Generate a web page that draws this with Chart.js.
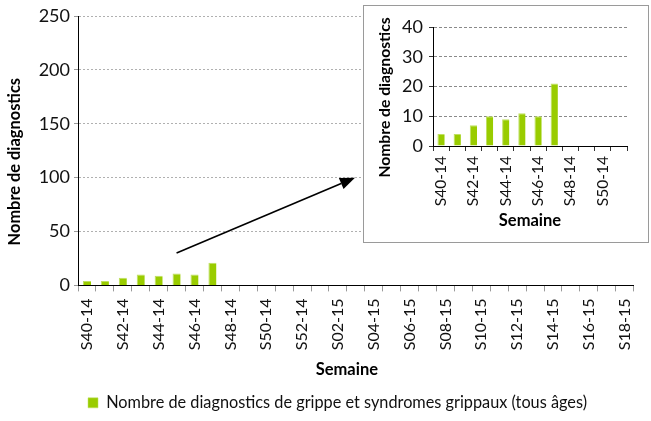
<!DOCTYPE html>
<html><head><meta charset="utf-8">
<script src="https://cdn.jsdelivr.net/npm/chart.js@4.4.1/dist/chart.umd.min.js"></script>
<style>
html,body{margin:0;padding:0;background:#fff;}
#wrap{position:relative;width:651px;height:421px;overflow:hidden;}
#main{position:absolute;left:0;top:0;}
#insetBox{position:absolute;left:363px;top:5px;width:284px;height:236px;border:1px solid #9a9a9a;background:#fff;}
#inset{position:absolute;left:0;top:0;}
</style></head><body>
<div id="wrap">
<canvas id="main" width="651" height="421"></canvas>
<div id="insetBox"><canvas id="inset" width="284" height="236"></canvas></div>
</div>
<script>
const weeks = ['S40-14','S41-14','S42-14','S43-14','S44-14','S45-14','S46-14','S47-14','S48-14','S49-14','S50-14','S51-14','S52-14',
  'S01-15','S02-15','S03-15','S04-15','S05-15','S06-15','S07-15','S08-15','S09-15','S10-15','S11-15','S12-15','S13-15','S14-15','S15-15','S16-15','S17-15','S18-15'];
const cases = [4,4,7,10,9,11,10,21,null,null,null,null,null,null,null,null,null,null,null,null,null,null,null,null,null,null,null,null,null,null,null];
const yTicksMain = [0,50,100,150,200,250];
const insetWeeks = weeks.slice(0,12);
const insetCases = cases.slice(0,12);
const yTicksInset = [0,10,20,30,40];
const seriesLabel = 'Nombre de diagnostics de grippe et syndromes grippaux (tous âges)';
const yTitle = 'Nombre de diagnostics';
const xTitle = 'Semaine';
const barColor = '#99cc00';
const F = "Lato, 'Open Sans', sans-serif";
const txt = '#111';

function everyOther(v, i) { return i % 2 === 0 ? this.getLabelForValue(v) : ''; }

function drawYTitle(ctx, text, size, x, y) {
  ctx.save();
  ctx.translate(x, y);
  ctx.rotate(-Math.PI / 2);
  ctx.fillStyle = '#000';
  ctx.font = 'bold ' + size + 'px ' + F;
  ctx.textAlign = 'center';
  ctx.textBaseline = 'middle';
  ctx.fillText(text, 0, 0);
  ctx.restore();
}

const mainDecor = {
  id: 'mainDecor',
  afterDraw(chart) {
    const ctx = chart.ctx, xs = chart.scales.x, ys = chart.scales.y, ca = chart.chartArea;
    ctx.save();
    ctx.fillStyle = '#000';
    ctx.font = 'bold 16.5px ' + F;
    ctx.textAlign = 'center';
    ctx.textBaseline = 'middle';
    ctx.fillText(xTitle, (ca.left + ca.right) / 2 - 9, 370);
    ctx.restore();
    drawYTitle(ctx, yTitle, 16.4, 15, (ca.top + ca.bottom) / 2 + 11);
    // arrow
    ctx.save();
    const box = document.getElementById('insetBox');
    const x0 = xs.getPixelForValue(5), y0 = ys.getPixelForValue(30);
    const x1 = box.offsetLeft - 8, y1 = ys.getPixelForValue(100);
    const ang = Math.atan2(y1 - y0, x1 - x0);
    const L = 15, W = 6;
    const bx = x1 - L * Math.cos(ang), by = y1 - L * Math.sin(ang);
    ctx.strokeStyle = '#000'; ctx.fillStyle = '#000';
    ctx.lineWidth = 1.6;
    ctx.beginPath(); ctx.moveTo(x0, y0); ctx.lineTo(bx, by); ctx.stroke();
    ctx.beginPath();
    ctx.moveTo(x1, y1);
    ctx.lineTo(bx + W * Math.sin(ang), by - W * Math.cos(ang));
    ctx.lineTo(bx - W * Math.sin(ang), by + W * Math.cos(ang));
    ctx.closePath(); ctx.fill();
    ctx.restore();
  }
};

const insetDecor = {
  id: 'insetDecor',
  afterDraw(chart) {
    const ca = chart.chartArea;
    drawYTitle(chart.ctx, yTitle, 15.7, 21, (ca.top + ca.bottom) / 2 + 11);
  }
};

new Chart(document.getElementById('main'), {
  type: 'bar',
  data: { labels: weeks, datasets: [{ label: seriesLabel, data: cases, backgroundColor: barColor,
    borderColor: '#bfe060', borderWidth: { top: 1, left: 1, right: 0, bottom: 0 }, barPercentage: 0.45, categoryPercentage: 1 }] },
  options: {
    responsive: false, animation: false,
    layout: { padding: { left: 28, right: 4, top: 16, bottom: 0 } },
    plugins: {
      legend: { position: 'bottom', labels: { boxWidth: 10, boxHeight: 10, padding: 5, color: txt, font: { family: F, size: 16.3 } } },
      tooltip: { enabled: false }
    },
    scales: {
      x: {
        grid: { display: true, drawOnChartArea: false, drawTicks: true, tickLength: 6, color: '#9a9a9a' },
        border: { color: '#000', width: 1 },
        ticks: { autoSkip: false, maxRotation: 90, minRotation: 90, padding: 7, color: txt, font: { family: F, size: 16 }, callback: everyOther },
        afterFit: s => { s.height = 104.3; }
      },
      y: {
        min: 0, max: 250,
        afterBuildTicks: s => { s.ticks = yTicksMain.map(v => ({ value: v })); },
        ticks: { color: txt, padding: 4, font: { family: F, size: 18 } },
        grid: { color: c => c.tick && c.tick.value === 0 ? 'rgba(0,0,0,0)' : '#b0b0b0', tickColor: '#9a9a9a', tickLength: 4 },
        border: { color: '#000', width: 1, dash: [2, 2] },
        afterFit: s => { s.width = 50; }
      }
    }
  },
  plugins: [mainDecor]
});

new Chart(document.getElementById('inset'), {
  type: 'bar',
  data: { labels: insetWeeks, datasets: [{ label: seriesLabel, data: insetCases, backgroundColor: barColor,
    borderColor: '#bfe060', borderWidth: { top: 1, left: 1, right: 0, bottom: 0 }, barPercentage: 0.45, categoryPercentage: 1 }] },
  options: {
    responsive: false, animation: false,
    layout: { padding: { left: 0, right: 21, top: 21, bottom: 0 } },
    plugins: { legend: { display: false }, tooltip: { enabled: false } },
    scales: {
      x: {
        grid: { display: true, drawOnChartArea: false, drawTicks: true, tickLength: 5, color: '#333' },
        border: { color: '#000', width: 1 },
        ticks: { autoSkip: false, maxRotation: 90, minRotation: 90, padding: 5, color: txt, font: { family: F, size: 15.5 }, callback: everyOther },
        title: { display: true, text: xTitle, color: '#000', padding: { top: 0, bottom: 11 }, font: { family: F, size: 16.5, weight: 'bold' } },
        afterFit: s => { s.height = 96; }
      },
      y: {
        min: 0, max: 40,
        afterBuildTicks: s => { s.ticks = yTicksInset.map(v => ({ value: v })); },
        ticks: { color: txt, padding: 6, font: { family: F, size: 18 } },
        grid: { color: c => c.tick && c.tick.value === 0 ? 'rgba(0,0,0,0)' : '#8a8a8a', tickColor: '#333', tickLength: 4 },
        border: { color: '#000', width: 1, dash: [3, 2] },
        afterFit: s => { s.width = 69; }
      }
    }
  },
  plugins: [insetDecor]
});
</script>
</body></html>
